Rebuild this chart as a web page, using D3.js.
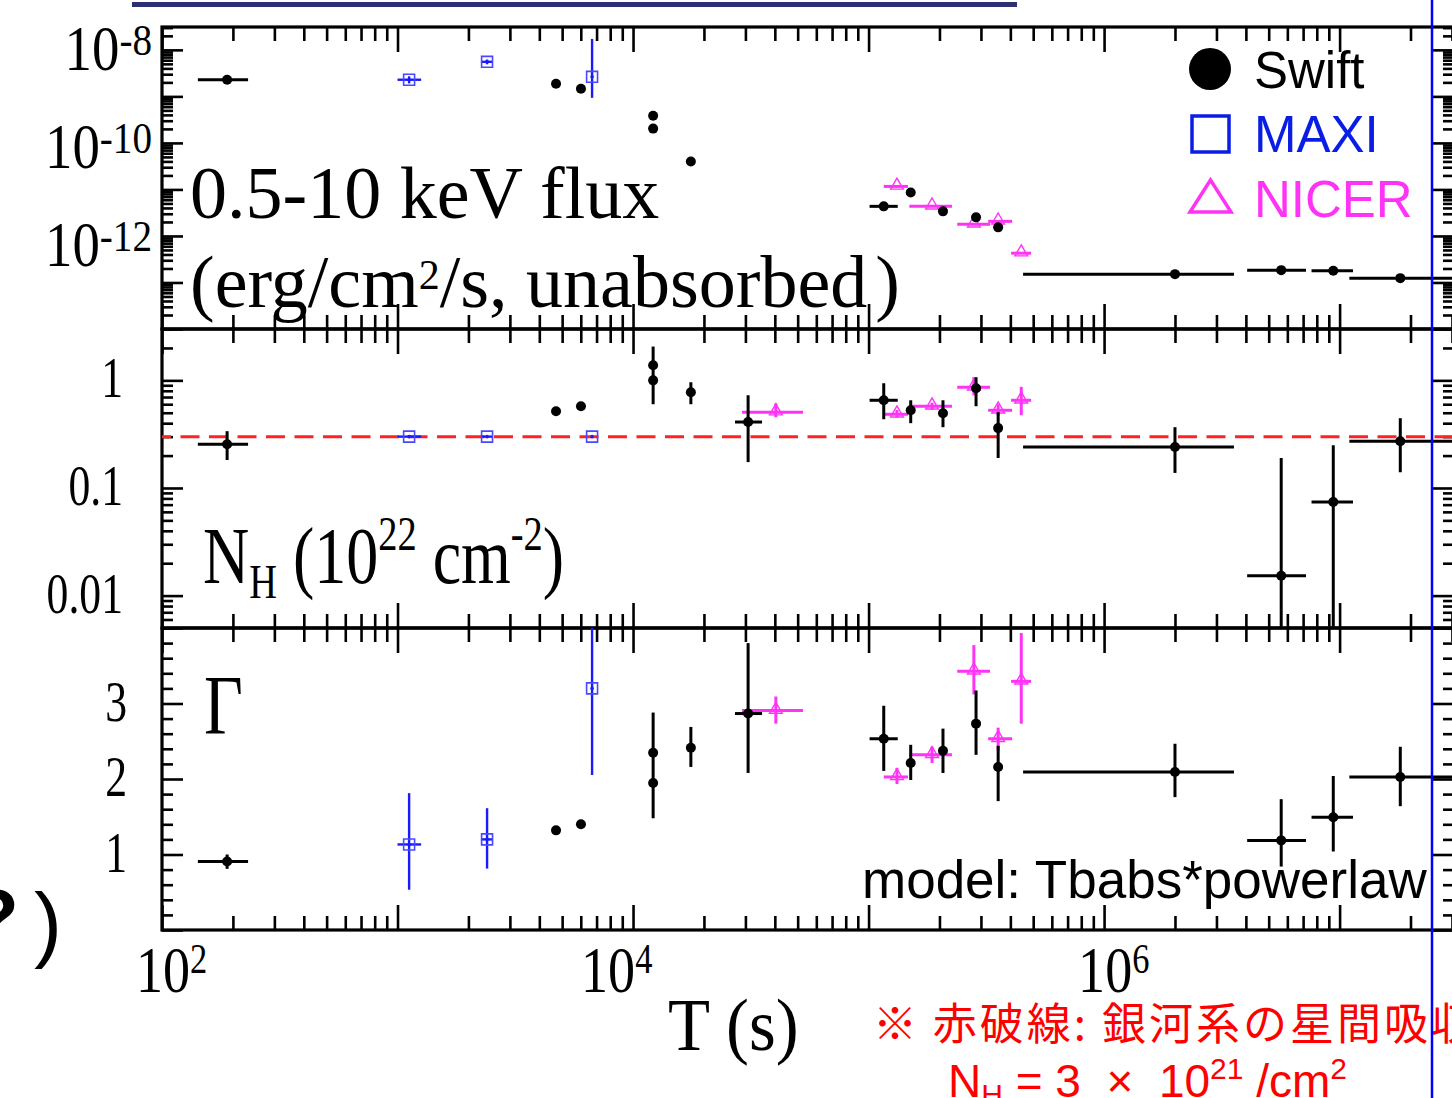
<!DOCTYPE html>
<html><head><meta charset="utf-8">
<script src="https://cdn.jsdelivr.net/npm/d3@7"></script>
<style>html,body{margin:0;padding:0;background:#fff;overflow:hidden}svg{display:block}</style>
</head><body><svg id="c" width="1452" height="1098"></svg>
<script>
// ---------------- data ----------------
const swiftT       = [189, 4710, 6010, 12170, 12170, 17600, 30800, 116000, 151000, 207000, 286000, 355000, 2.0e6, 5.65e6, 9.4e6, 1.81e7];
const swiftTLo     = [142, null, null, null, null, null, 27100, 101000, null, null, null, null, 4.53e5, 4.05e6, 7.6e6, 1.1e7];
const swiftTHi     = [232, null, null, null, null, null, 35300, 133000, null, null, null, null, 3.56e6, 7.2e6, 1.14e7, 3.5e7];
const swiftFlux    = [2.28e-9, 1.87e-9, 1.46e-9, 3.85e-10, 2.03e-10, 3.98e-11, null, 4.33e-12, 8.6e-12, 3.38e-12, 2.51e-12, 1.53e-12, 1.51e-13, 1.84e-13, 1.78e-13, 1.24e-13];
const swiftFluxLo  = [null, null, null, null, null, null, null, null, null, null, null, null, null, 1.6e-13, 1.6e-13, null];
const swiftFluxHi  = [null, null, null, null, null, null, null, null, null, null, null, null, null, 2.1e-13, 2.0e-13, null];
const swiftNH      = [0.255, 0.516, 0.575, 1.38, 1.0, 0.774, 0.41, 0.653, 0.527, 0.494, 0.843, 0.36, 0.24, 0.0153, 0.074, 0.272];
const swiftNHLo    = [0.182, null, null, 0.6, null, 0.6, 0.174, 0.435, 0.40, 0.367, 0.575, 0.19, 0.138, 0.001, 0.001, 0.14];
const swiftNHHi    = [0.337, null, null, 2.06, null, 0.96, 0.727, 0.94, 0.653, 0.653, 1.07, 0.506, 0.367, 0.19, 0.25, 0.445];
const swiftGamma   = [0.907, 1.32, 1.40, 2.347, 1.947, 2.413, 2.867, 2.533, 2.213, 2.373, 2.733, 2.16, 2.093, 1.187, 1.493, 2.027];
const swiftGammaLo = [0.81, null, null, 1.48, null, 2.16, 2.08, 2.107, 1.987, 2.08, 2.32, 1.707, 1.76, 0.84, 1.04, 1.64];
const swiftGammaHi = [1.0, null, null, 2.88, null, 2.69, 3.8, 2.97, 2.453, 2.667, 3.173, 2.44, 2.467, 1.733, 2.04, 2.427];

const maxiT       = [1120, 2400, 6700];
const maxiTLo     = [1000, 2260, null];
const maxiTHi     = [1260, 2540, null];
const maxiFlux    = [2.28e-9, 5.53e-9, 2.63e-9];
const maxiFluxLo  = [1.9e-9, 4.9e-9, 9.3e-10];
const maxiFluxHi  = [2.7e-9, 6.2e-9, 1.72e-8];
const maxiNH      = [0.3, 0.3, 0.3];
const maxiGamma   = [1.133, 1.2, 3.2];
const maxiGammaLo = [0.533, 0.813, 2.053];
const maxiGammaHi = [1.813, 1.613, 4.0];

const nicerT       = [40400, 132000, 186000, 280000, 355000, 445000];
const nicerTLo     = [29000, 116000, 149000, 238000, 322000, 403000];
const nicerTHi     = [52700, 147000, 226000, 328000, 407000, 490000];
const nicerFlux    = [null, 1.16e-11, 4.33e-12, 1.78e-12, 2.06e-12, 4.26e-13];
const nicerNH      = [0.506, 0.484, 0.574, 0.861, 0.527, 0.653];
const nicerNHLo    = [0.455, 0.45, 0.53, 0.727, 0.47, 0.474];
const nicerNHHi    = [0.612, 0.53, 0.62, 1.07, 0.6, 0.87];
const nicerGamma   = [2.907, 2.027, 2.32, 3.427, 2.533, 3.293];
const nicerGammaLo = [2.733, 1.933, 2.213, 3.12, 2.373, 2.733];
const nicerGammaHi = [3.093, 2.147, 2.427, 3.773, 2.68, 3.933];

const galacticNH = 0.3;

const xTickValues  = [1e2, 1e4, 1e6];
const xTickExps    = ["2", "4", "6"];
const fluxTickValues = [1e-8, 1e-10, 1e-12];
const fluxTickExps   = ["-8", "-10", "-12"];
const nhTickValues   = [1, 0.1, 0.01];
const nhTickLabels   = ["1", "0.1", "0.01"];
const gammaTickValues = [1, 2, 3];
const gammaTickLabels = ["1", "2", "3"];

// ---------------- layout ----------------
const plotL = 162, plotR = 1454;
const SERIF = "'Liberation Serif','Times New Roman',serif";
const SANS = "'Liberation Sans',Arial,sans-serif";
const C_MAXI = "#1a1aff", C_MAXI_TXT = "#0a1de5", C_NICER = "#ff33f5";

const svg = d3.select("#c");
const xScale = d3.scaleLog().domain([1e2, 3.06e7]).range([plotL, plotR]);
const fluxScale = d3.scaleLog().domain([1e-14, 3.1e-8]).range([329, 27]);
const nhScale = d3.scaleLog().domain([0.005, 3]).range([628, 329]);
const gammaScale = d3.scaleLinear().domain([0, 4]).range([930, 628]);

const panels = [
  {id: "flux", top: 27, bot: 329, y: fluxScale},
  {id: "nh", top: 329, bot: 628, y: nhScale},
  {id: "gamma", top: 628, bot: 930, y: gammaScale}
];

const defs = svg.append("defs");
panels.forEach(p => {
  defs.append("clipPath").attr("id", "clip-" + p.id)
    .append("rect").attr("x", plotL).attr("y", p.top).attr("width", plotR - plotL).attr("height", p.bot - p.top);
});

const isDecade = v => Math.abs(Math.log10(v) - Math.round(Math.log10(v))) < 1e-6;
const xAll = xScale.ticks();
const xMajor = xAll.filter(isDecade), xMinor = xAll.filter(v => !isDecade(v));

function styleAxis(g) {
  g.select(".domain").remove();
  g.selectAll(".tick line").attr("stroke", "#000").attr("stroke-width", 2.6);
  g.selectAll(".tick text").remove();
}

panels.forEach(p => {
  const ax = svg.append("g");
  [[xMajor, 25], [xMinor, 14]].forEach(([vals, len]) => {
    ax.append("g").attr("transform", `translate(0,${p.top})`)
      .call(d3.axisBottom(xScale).tickValues(vals).tickSize(len).tickFormat("")).call(styleAxis);
    ax.append("g").attr("transform", `translate(0,${p.bot})`)
      .call(d3.axisTop(xScale).tickValues(vals).tickSize(len).tickFormat("")).call(styleAxis);
  });
  let yMaj, yMin;
  if (p.id === "gamma") {
    const all = gammaScale.ticks(20);
    yMaj = all.filter(v => Math.abs(v - Math.round(v)) < 1e-6);
    yMin = all.filter(v => Math.abs(v - Math.round(v)) >= 1e-6);
  } else {
    const all = p.y.ticks();
    yMaj = all.filter(isDecade); yMin = all.filter(v => !isDecade(v));
  }
  [[yMaj, 21], [yMin, 11]].forEach(([vals, len]) => {
    ax.append("g").attr("transform", `translate(${plotL},0)`)
      .call(d3.axisRight(p.y).tickValues(vals).tickSize(len).tickFormat("")).call(styleAxis);
    ax.append("g").attr("transform", `translate(${plotR},0)`)
      .call(d3.axisLeft(p.y).tickValues(vals).tickSize(len).tickFormat("")).call(styleAxis);
  });
  svg.append("rect").attr("x", plotL).attr("y", p.top).attr("width", plotR - plotL).attr("height", p.bot - p.top)
    .attr("fill", "none").attr("stroke", "#000").attr("stroke-width", 3.2);
});

// galactic NH dashed line
svg.append("g").attr("clip-path", "url(#clip-nh)").append("line")
  .attr("x1", plotL).attr("x2", plotR).attr("y1", nhScale(galacticNH)).attr("y2", nhScale(galacticNH))
  .attr("stroke", "#ff2222").attr("stroke-width", 3).attr("stroke-dasharray", "19,9.5").attr("stroke-dashoffset", 10);

// ---------------- data drawing ----------------
function drawSet(panelId, ys, s) {
  const g = svg.append("g").attr("clip-path", `url(#clip-${panelId})`);
  const idx = d3.range(s.T.length).filter(i => s.V[i] != null);
  g.selectAll(null).data(idx.filter(i => s.TLo && s.TLo[i] != null)).join("line")
    .attr("x1", i => xScale(s.TLo[i])).attr("x2", i => xScale(s.THi[i]))
    .attr("y1", i => ys(s.V[i])).attr("y2", i => ys(s.V[i]))
    .attr("stroke", s.color).attr("stroke-width", s.lw);
  g.selectAll(null).data(idx.filter(i => s.VLo && s.VLo[i] != null)).join("line")
    .attr("x1", i => xScale(s.T[i])).attr("x2", i => xScale(s.T[i]))
    .attr("y1", i => ys(s.VLo[i])).attr("y2", i => ys(s.VHi[i]))
    .attr("stroke", s.color).attr("stroke-width", s.lw);
  if (s.marker === "dot") {
    g.selectAll(null).data(idx).join("circle")
      .attr("cx", i => xScale(s.T[i])).attr("cy", i => ys(s.V[i])).attr("r", 5).attr("fill", "#000");
  } else if (s.marker === "square") {
    g.selectAll(null).data(idx).join("path")
      .attr("transform", i => `translate(${xScale(s.T[i])},${ys(s.V[i])})`)
      .attr("d", d3.symbol(d3.symbolSquare, 120)).attr("fill", "none").attr("stroke", "#4848ff").attr("stroke-width", 1.6);
    g.selectAll(null).data(idx).join("circle")
      .attr("cx", i => xScale(s.T[i])).attr("cy", i => ys(s.V[i])).attr("r", 1.8).attr("fill", C_MAXI);
  } else {
    g.selectAll(null).data(idx).join("path")
      .attr("transform", i => `translate(${xScale(s.T[i])},${ys(s.V[i]) - 1})`)
      .attr("d", d3.symbol(d3.symbolTriangle, 70)).attr("fill", "none").attr("stroke", C_NICER).attr("stroke-width", 1.4);
  }
}

const swiftStyle = {color: "#000", lw: 3, marker: "dot"};
const maxiStyle = {color: C_MAXI, lw: 2.4, marker: "square"};
const nicerStyle = {color: C_NICER, lw: 3, marker: "triangle"};

drawSet("flux", fluxScale, {...maxiStyle, T: maxiT, TLo: maxiTLo, THi: maxiTHi, V: maxiFlux, VLo: maxiFluxLo, VHi: maxiFluxHi});
drawSet("flux", fluxScale, {...nicerStyle, T: nicerT, TLo: nicerTLo, THi: nicerTHi, V: nicerFlux});
drawSet("flux", fluxScale, {...swiftStyle, T: swiftT, TLo: swiftTLo, THi: swiftTHi, V: swiftFlux, VLo: swiftFluxLo, VHi: swiftFluxHi});
drawSet("nh", nhScale, {...maxiStyle, T: maxiT, TLo: maxiTLo, THi: maxiTHi, V: maxiNH});
drawSet("nh", nhScale, {...nicerStyle, T: nicerT, TLo: nicerTLo, THi: nicerTHi, V: nicerNH, VLo: nicerNHLo, VHi: nicerNHHi});
drawSet("nh", nhScale, {...swiftStyle, T: swiftT, TLo: swiftTLo, THi: swiftTHi, V: swiftNH, VLo: swiftNHLo, VHi: swiftNHHi});
drawSet("gamma", gammaScale, {...maxiStyle, T: maxiT, TLo: maxiTLo, THi: maxiTHi, V: maxiGamma, VLo: maxiGammaLo, VHi: maxiGammaHi});
drawSet("gamma", gammaScale, {...nicerStyle, T: nicerT, TLo: nicerTLo, THi: nicerTHi, V: nicerGamma, VLo: nicerGammaLo, VHi: nicerGammaHi});
drawSet("gamma", gammaScale, {...swiftStyle, T: swiftT, TLo: swiftTLo, THi: swiftTHi, V: swiftGamma, VLo: swiftGammaLo, VHi: swiftGammaHi});

// ---------------- tick labels ----------------
fluxTickValues.forEach((v, i) => {
  const t = svg.append("g").attr("transform", `translate(152,${fluxScale(v) + 20 + 5 * i}) scale(0.87,1)`)
    .append("text").attr("text-anchor", "end").attr("font-family", SERIF).attr("font-size", 63).attr("fill", "#000");
  t.append("tspan").text("10");
  t.append("tspan").attr("font-size", 45).attr("dy", -15).text(fluxTickExps[i]);
});
nhTickValues.forEach((v, i) => {
  svg.append("g").attr("transform", `translate(123,${nhScale(v) + 17}) scale(0.78,1)`)
    .append("text").attr("text-anchor", "end").attr("font-family", SERIF).attr("font-size", 56).text(nhTickLabels[i]);
});
gammaTickValues.forEach((v, i) => {
  svg.append("g").attr("transform", `translate(127,${gammaScale(v) + 17}) scale(0.78,1)`)
    .append("text").attr("text-anchor", "end").attr("font-family", SERIF).attr("font-size", 56).text(gammaTickLabels[i]);
});
const xLabelNudge = [0, -26, 0];
xTickValues.forEach((v, i) => {
  const t = svg.append("g").attr("transform", `translate(${xScale(v) + xLabelNudge[i] - 26},992) scale(0.82,1)`)
    .append("text").attr("font-family", SERIF).attr("font-size", 66);
  t.append("tspan").text("10");
  t.append("tspan").attr("font-size", 42).attr("dy", -19).text(xTickExps[i]);
});

// ---------------- annotations ----------------
svg.append("text").attr("x", 190).attr("y", 218).attr("font-family", SERIF).attr("font-size", 74).text("0.5-10 keV flux");
{
  const t = svg.append("text").attr("x", 190).attr("y", 307).attr("font-family", SERIF).attr("font-size", 74);
  t.append("tspan").text("(erg/cm");
  t.append("tspan").attr("font-size", 42).attr("dy", -18).text("2");
  t.append("tspan").attr("dy", 18).text("/s, unabsorbed");
  t.append("tspan").attr("dx", 8).text(")");
}
{
  const t = svg.append("g").attr("transform", "translate(203,583) scale(0.8,1)")
    .append("text").attr("font-family", SERIF).attr("font-size", 80).style("white-space", "pre");
  t.append("tspan").text("N");
  t.append("tspan").attr("font-size", 48).attr("dy", 15).text("H");
  t.append("tspan").attr("dy", -15).text(" (10");
  t.append("tspan").attr("font-size", 48).attr("dy", -33).text("22");
  t.append("tspan").attr("dy", 33).text(" cm");
  t.append("tspan").attr("font-size", 48).attr("dy", -33).text("-2");
  t.append("tspan").attr("dy", 33).text(")");
}
svg.append("g").attr("transform", "translate(204,734) scale(0.8,1)")
  .append("text").attr("font-family", SERIF).attr("font-size", 84).text("Γ");

svg.append("text").attr("x", 862).attr("y", 898).attr("font-family", SANS).attr("font-size", 53).text("model: Tbabs*powerlaw");

svg.append("g").attr("transform", "translate(668,1050) scale(0.93,1)")
  .append("text").attr("font-family", SERIF).attr("font-size", 74).style("white-space", "pre").text("T (s)");

// legend
svg.append("circle").attr("cx", 1210).attr("cy", 69).attr("r", 21).attr("fill", "#000");
svg.append("text").attr("x", 1254).attr("y", 88).attr("font-family", SANS).attr("font-size", 51).attr("fill", "#000").text("Swift");
svg.append("rect").attr("x", 1192).attr("y", 116).attr("width", 37).attr("height", 36)
  .attr("fill", "none").attr("stroke", C_MAXI_TXT).attr("stroke-width", 3.5);
svg.append("text").attr("x", 1254).attr("y", 152).attr("font-family", SANS).attr("font-size", 51).attr("fill", C_MAXI_TXT).text("MAXI");
svg.append("path").attr("d", "M1190,212 L1231,212 L1210.5,180 Z")
  .attr("fill", "none").attr("stroke", C_NICER).attr("stroke-width", 3.5);
svg.append("text").attr("x", 1254).attr("y", 217).attr("font-family", SANS).attr("font-size", 51).attr("fill", C_NICER).text("NICER");

// red note
svg.append("text").attr("x", 873).attr("y", 1040).attr("font-family", "'Noto Sans CJK JP',sans-serif")
  .attr("font-size", 44).attr("letter-spacing", 3).attr("fill", "#ff0000").style("white-space", "pre")
  .text("※ 赤破線: 銀河系の星間吸収");
{
  const t = svg.append("text").attr("x", 948).attr("y", 1097).attr("font-family", SANS)
    .attr("font-size", 46).attr("fill", "#ff0000").style("white-space", "pre");
  t.append("tspan").text("N");
  t.append("tspan").attr("font-size", 30).attr("dy", 8).text("H");
  t.append("tspan").attr("dy", -8).text(" = 3  ×  10");
  t.append("tspan").attr("font-size", 30).attr("dy", -18).text("21");
  t.append("tspan").attr("dy", 18).text(" /cm");
  t.append("tspan").attr("font-size", 30).attr("dy", -18).text("2");
}

// cropped fragments of the slide
svg.append("rect").attr("x", 132).attr("y", 2).attr("width", 885).attr("height", 5).attr("fill", "#2e2e72");
svg.append("text").attr("x", -30).attr("y", 945).attr("font-family", SANS).attr("font-weight", "bold").attr("font-size", 80).text("?");
svg.append("text").attr("x", 34).attr("y", 952).attr("font-family", SANS).attr("font-size", 84).text(")");

// blue vertical guide
svg.append("line").attr("x1", 1432).attr("x2", 1432).attr("y1", 0).attr("y2", 1098)
  .attr("stroke", "#0000ff").attr("stroke-width", 2.5);
</script></body></html>
